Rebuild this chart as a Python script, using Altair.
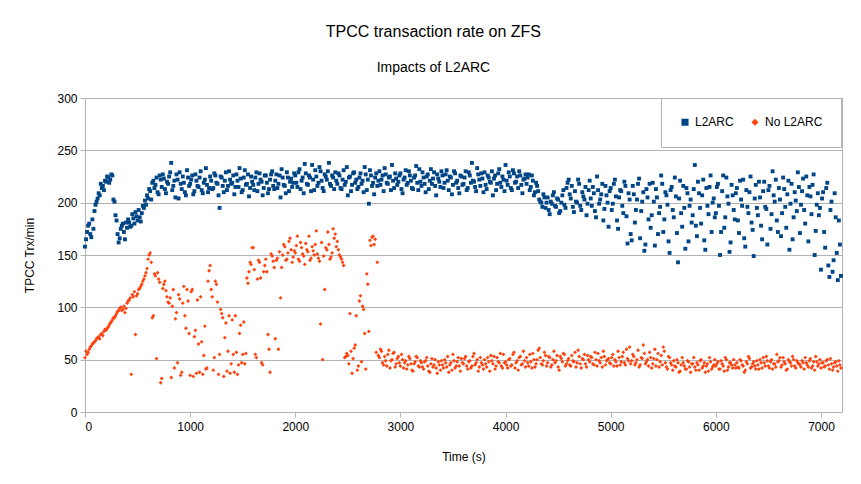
import altair as alt
import pandas as pd

# Readings every 10 s. "_a" lists hold the samples at 0, 20, 40 ... s,
# "_b" lists hold the samples at 10, 30, 50 ... s.
TIME_STEP = 20
OFFSET_B = 10

l2arc_a = [
    158, 172, 180, 167, 175, 198, 204, 207, 214, 212,
    220, 224, 222, 226, 201, 183, 162, 175, 180, 165,
    176, 181, 178, 185, 191, 183, 186, 190, 195, 198,
    204, 211, 219, 214, 224, 208, 222, 227, 213, 220,
    225, 238, 216, 205, 222, 229, 213, 219, 207, 224,
    218, 226, 211, 221, 215, 230, 209, 222, 217, 214,
    221, 214, 226, 218, 195, 224, 210, 229, 216, 222,
    219, 208, 227, 215, 223, 212, 231, 218, 206, 225,
    217, 224, 211, 228, 220, 214, 226, 209, 222, 230,
    213, 227, 218, 205, 224, 216, 229, 211, 223, 219,
    226, 215, 232, 221, 209, 228, 217, 224, 236, 212,
    225, 219, 230, 214, 227, 222, 238, 216, 224, 229,
    218, 226, 213, 231, 220, 207, 225, 217, 229, 222,
    215, 228, 221, 234, 212, 199, 226, 219, 224, 216,
    230, 222, 211, 227, 218, 225, 236, 214, 223, 220,
    228, 209, 224, 217, 230, 221, 213, 226, 219, 232,
    216, 224, 210, 227, 221, 218, 229, 207, 223, 215,
    226, 219, 231, 212, 224, 217, 228, 221, 209, 225,
    218, 230, 214, 226, 238, 220, 211, 227, 216, 223,
    229, 213, 224, 219, 207, 226, 218, 232, 215, 222,
    236, 217, 225, 212, 228, 220, 214, 226, 209, 223,
    218, 227, 215, 221, 210, 216, 203, 200, 208, 195,
    205, 189, 199, 210, 196, 203, 192, 207, 198, 214,
    222, 204, 196, 211, 200, 218, 193, 206, 215, 199,
    221, 197, 209, 186, 212, 203, 218, 194, 207, 177,
    214, 199, 222, 183, 205, 211, 190, 216, 161, 203,
    164, 208, 193, 218, 166, 201, 154, 213, 184, 176,
    219, 159, 205, 190, 226, 172, 210, 198, 152, 215,
    186, 206, 143, 221, 177, 195, 214, 163, 203, 188,
    236, 168, 209, 180, 222, 155, 197, 215, 172, 204,
    190, 218, 150, 211, 176, 224, 199, 162, 207, 184,
    214, 171, 203, 222, 158, 196, 210, 181, 149, 217,
    188, 205, 165, 220, 194, 212, 175, 230, 201, 183,
    214, 168, 224, 196, 208, 155, 218, 186, 202, 229,
    171, 211, 193, 225, 163, 206, 217, 150, 198, 188,
    136, 210, 157, 219, 129, 201, 145, 186, 126, 160,
]

l2arc_b = [
    165, 178, 170, 184, 192, 201, 209, 218, 216, 221,
    225, 219, 227, 203, 188, 170, 166, 178, 172, 181,
    184, 177, 189, 180, 187, 193, 182, 197, 202, 207,
    213, 203, 221, 217, 210, 226, 215, 223, 209, 218,
    229, 212, 221, 227, 204, 218, 225, 210, 231, 216,
    222, 208, 227, 216, 224, 212, 219, 233, 210, 225,
    213, 228, 219, 207, 225, 216, 221, 212, 230, 218,
    226, 215, 221, 233, 210, 224, 217, 227, 214, 220,
    212, 229, 218, 222, 207, 226, 219, 213, 227, 216,
    221, 214, 226, 232, 217, 209, 224, 220, 215, 228,
    219, 229, 213, 224, 237, 218, 226, 211, 222, 231,
    216, 234, 221, 211, 225, 230, 218, 226, 213, 221,
    228, 214, 222, 217, 234, 224, 211, 228, 219, 213,
    224, 218, 210, 227, 222, 231, 216, 208, 228, 221,
    217, 226, 233, 219, 224, 212, 221, 228, 217, 226,
    213, 222, 231, 219, 226, 214, 224, 235, 212, 220,
    229, 218, 225, 213, 232, 223, 216, 227, 220, 230,
    214, 227, 221, 225, 208, 230, 219, 214, 226, 217,
    224, 212, 229, 219, 221, 215, 233, 222, 228, 210,
    217, 226, 220, 230, 223, 212, 228, 219, 225, 211,
    221, 229, 214, 231, 219, 225, 230, 217, 222, 227,
    224, 212, 226, 207, 219, 211, 201, 196, 205, 200,
    193, 201, 207, 197, 204, 190, 200, 212, 195, 219,
    208, 216, 191, 201, 222, 197, 210, 203, 188, 212,
    204, 215, 192, 225, 199, 208, 183, 216, 200, 211,
    193, 218, 206, 175, 212, 197, 220, 187, 209, 170,
    216, 181, 203, 223, 192, 210, 160, 205, 218, 188,
    201, 213, 170, 196, 218, 184, 207, 163, 212, 193,
    224, 171, 204, 190, 216, 156, 209, 197, 181, 213,
    178, 220, 195, 207, 164, 214, 189, 226, 200, 186,
    215, 197, 172, 226, 186, 206, 153, 217, 193, 209,
    183, 221, 197, 166, 212, 190, 225, 174, 204, 195,
    220, 178, 211, 196, 160, 216, 189, 207, 222, 172,
    203, 190, 213, 176, 221, 199, 165, 210, 192, 215,
    198, 223, 180, 207, 215, 189, 227, 173, 209, 195,
    204, 172, 214, 140, 193, 134, 209, 152, 183, 130,
]

no_l2arc_a = [
    52, 55, 60, 63, 66, 68, 71, 70, 75, 77,
    78, 81, 85, 88, 90, 94, 97, 100, 98, 95,
    104, 107, 36, 110, 74, 113, 118, 122, 127, 133,
    146, 152, 90, 132, 51, 127, 28, 118, 125, 110,
    104, 33, 117, 89, 47, 108, 38, 120, 80, 106,
    35, 117, 72, 37, 65, 110, 36, 82, 42, 135,
    117, 40, 125, 105, 55, 94, 34, 85, 58, 37,
    88, 38, 57, 45, 83, 55, 46, 128, 134, 141,
    157, 55, 127, 143, 47, 134, 146, 74, 38, 149,
    138, 145, 60, 109, 150, 158, 146, 163, 155, 148,
    152, 168, 144, 157, 149, 161, 153, 145, 158, 150,
    173, 147, 84, 50, 117, 155, 160, 148, 175, 170,
    163, 150, 146, 140, 53, 54, 94, 37, 61, 92,
    44, 111, 101, 75, 132, 77, 159, 168, 165, 143,
    52, 58, 45, 49, 55, 42, 50, 57, 46, 53,
    44, 50, 47, 41, 53, 46, 39, 48, 52, 43,
    47, 41, 49, 44, 38, 51, 45, 42, 48, 40,
    45, 50, 43, 38, 47, 55, 42, 48, 44, 51,
    46, 53, 41, 49, 44, 56, 47, 39, 52, 45,
    50, 43, 48, 54, 46, 41, 52, 47, 44, 55,
    48, 42, 51, 45, 57, 47, 40, 53, 46, 49,
    52, 44, 48, 56, 43, 50, 61, 46, 49, 54,
    47, 52, 45, 58, 49, 43, 53, 48, 55, 46,
    51, 44, 49, 57, 47, 53, 42, 50, 46, 54,
    48, 52, 45, 50, 56, 47, 43, 53, 49, 51,
    46, 55, 50, 44, 52, 48, 57, 45, 51, 62,
    49, 53, 47, 59, 45, 51, 56, 48, 44, 52,
    46, 60, 50, 43, 54, 62, 47, 41, 52, 45,
    49, 43, 47, 39, 52, 44, 41, 48, 38, 46,
    43, 47, 40, 50, 44, 38, 46, 52, 41, 45,
    44, 48, 41, 46, 39, 50, 43, 47, 42, 45,
    47, 42, 49, 44, 40, 46, 51, 43, 48, 41,
    45, 50, 42, 47, 53, 44, 48, 41, 46, 55,
    49, 43, 52, 46, 41, 48, 44, 50, 42, 47,
    45, 49, 41, 47, 43, 51, 44, 40, 48, 46,
    42, 47, 44, 50, 41, 46, 43, 48, 39, 45,
]

no_l2arc_b = [
    58, 57, 62, 65, 67, 70, 72, 74, 73, 79,
    80, 83, 86, 90, 92, 96, 99, 97, 101, 99,
    106, 109, 112, 115, 111, 117, 120, 125, 130, 137,
    150, 143, 92, 130, 133, 124, 32, 122, 116, 105,
    109, 101, 42, 95, 112, 35, 104, 92, 117, 75,
    115, 34, 78, 107, 38, 67, 54, 41, 125, 140,
    110, 52, 122, 36, 98, 90, 71, 39, 92, 46,
    55, 92, 36, 75, 47, 86, 56, 123, 143, 157,
    136, 52, 145, 128, 45, 140, 134, 60, 151, 144,
    70, 147, 153, 138, 160, 145, 152, 166, 143, 154,
    159, 146, 162, 151, 141, 155, 168, 147, 154, 160,
    151, 144, 162, 149, 157, 172, 146, 152, 166, 158,
    155, 148, 143, 52, 56, 46, 58, 51, 64, 40,
    106, 48, 98, 41, 122, 164, 167, 160, 57, 54,
    60, 47, 53, 44, 59, 49, 56, 43, 51, 47,
    55, 42, 49, 45, 51, 40, 46, 53, 44, 49,
    43, 48, 52, 39, 46, 43, 50, 37, 45, 49,
    42, 47, 53, 45, 40, 49, 44, 52, 39, 47,
    51, 44, 48, 42, 53, 45, 50, 43, 47, 41,
    46, 52, 39, 49, 53, 44, 48, 56, 42, 47,
    45, 50, 44, 55, 42, 49, 52, 45, 58, 43,
    47, 55, 42, 50, 46, 59, 52, 45, 57, 44,
    53, 43, 50, 47, 54, 40, 51, 56, 44, 49,
    45, 54, 48, 43, 59, 46, 51, 55, 43, 50,
    53, 46, 57, 44, 49, 52, 58, 45, 50, 47,
    52, 44, 48, 58, 45, 53, 47, 60, 49, 46,
    55, 45, 50, 43, 52, 64, 46, 50, 57, 42,
    51, 44, 56, 48, 45, 58, 43, 53, 47, 40,
    44, 50, 38, 45, 47, 41, 49, 43, 46, 52,
    40, 45, 49, 42, 47, 44, 39, 48, 43, 50,
    46, 41, 49, 44, 52, 40, 47, 45, 50, 42,
    43, 50, 45, 38, 48, 53, 42, 46, 44, 49,
    41, 47, 52, 44, 49, 42, 50, 46, 43, 48,
    52, 45, 48, 40, 50, 47, 53, 44, 49, 46,
    43, 47, 52, 45, 49, 42, 48, 53, 44, 50,
    47, 43, 49, 45, 51, 40, 47, 44, 49, 42,
]

series_names = ["L2ARC", "No L2ARC"]
series_colors = ["#004586", "#ff420e"]
series_shapes = ["square", "diamond"]
x_ticks = [0, 1000, 2000, 3000, 4000, 5000, 6000, 7000]
y_ticks = [0, 50, 100, 150, 200, 250, 300]

rows = []
for name, va, vb in [("L2ARC", l2arc_a, l2arc_b), ("No L2ARC", no_l2arc_a, no_l2arc_b)]:
    for i, v in enumerate(va):
        rows.append({"Time": i * TIME_STEP, "Rate": v, "Series": name})
    for i, v in enumerate(vb):
        rows.append({"Time": i * TIME_STEP + OFFSET_B, "Rate": v, "Series": name})
df = pd.DataFrame(rows)

FONT = "Liberation Sans"
GRID = "#b3b3b3"

chart = (
    alt.Chart(df)
    .mark_point(filled=True, size=15, opacity=1)
    .encode(
        x=alt.X(
            "Time:Q",
            title="Time (s)",
            scale=alt.Scale(domain=[0, 7200], nice=False, zero=True),
            axis=alt.Axis(values=x_ticks, grid=False, format="d"),
        ),
        y=alt.Y(
            "Rate:Q",
            title="TPCC Trx/min",
            scale=alt.Scale(domain=[0, 300], nice=False),
            axis=alt.Axis(values=y_ticks, grid=True, format="d"),
        ),
        color=alt.Color(
            "Series:N",
            scale=alt.Scale(domain=series_names, range=series_colors),
            legend=alt.Legend(
                title=None,
                orient="none",
                legendX=576,
                legendY=0,
                direction="horizontal",
                padding=18,
                strokeColor=GRID,
                fillColor="white",
                symbolSize=50,
                symbolOpacity=1,
                labelFont=FONT,
                labelFontSize=12,
                labelColor="#000000",
                columnPadding=14,
                labelOffset=4,
            ),
        ),
        shape=alt.Shape(
            "Series:N",
            scale=alt.Scale(domain=series_names, range=series_shapes),
        ),
    )
    .properties(
        width=757,
        height=314,
        autosize=alt.AutoSizeParams(type="none"),
        padding={"left": 77, "top": 90, "right": 11, "bottom": 64},
        title=alt.TitleParams(
            text="TPCC transaction rate on ZFS",
            subtitle="Impacts of L2ARC",
            font=FONT,
            fontSize=16,
            fontWeight="normal",
            color="#000000",
            subtitleFont=FONT,
            subtitleFontSize=14,
            subtitleColor="#000000",
            subtitlePadding=21,
            anchor="middle",
            frame="bounds",
            offset=17,
        ),
    )
    .configure_view(stroke=GRID, strokeWidth=1)
    .configure_axis(
        domainColor=GRID,
        tickColor=GRID,
        gridColor=GRID,
        tickSize=5,
        labelFont=FONT,
        labelFontSize=12,
        labelColor="#000000",
        titleFont=FONT,
        titleFontSize=12,
        titleFontWeight="normal",
        titleColor="#000000",
    )
    .configure_axisY(labelPadding=3, titlePadding=20)
    .configure_axisX(labelPadding=4, titlePadding=19)
)

chart.save("out.html", embed_options={"renderer": "svg", "actions": False})
